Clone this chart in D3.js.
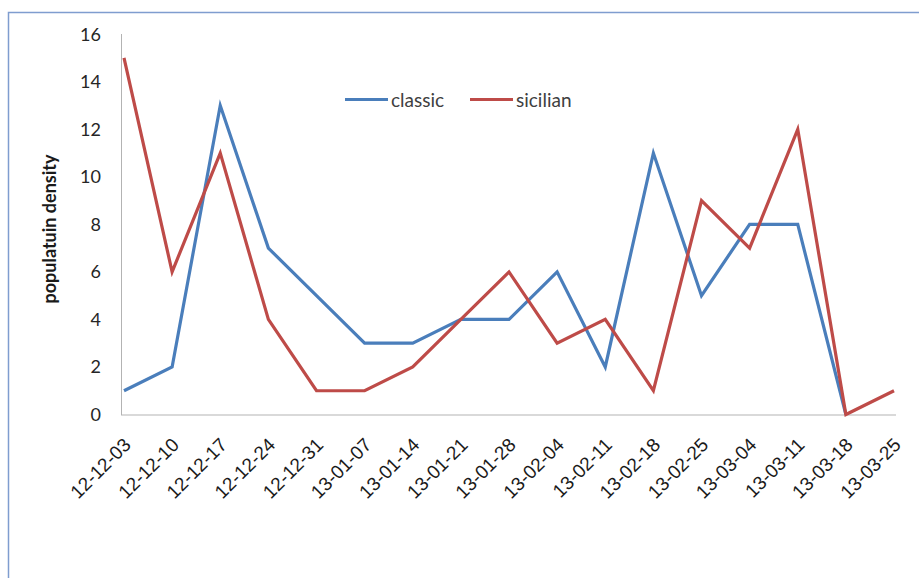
<!DOCTYPE html>
<html>
<head>
<meta charset="utf-8">
<script src="https://cdn.jsdelivr.net/npm/d3@7"></script>
<style>
  body { margin: 0; background: #fff; }
  svg { display: block; font-family: Lato, "Open Sans", sans-serif; }
</style>
</head>
<body>
<svg id="chart" width="919" height="578"></svg>
<script>
const dates = ['12-12-03','12-12-10','12-12-17','12-12-24','12-12-31','13-01-07','13-01-14','13-01-21','13-01-28',
  '13-02-04','13-02-11','13-02-18','13-02-25','13-03-04','13-03-11','13-03-18','13-03-25'];
const classic = [1, 2, 13, 7, 5, 3, 3, 4, 4, 6, 2, 11, 5, 8, 8, 0, null];
const sicilian = [15, 6, 11, 4, 1, 1, 2, 4, 6, 3, 4, 1, 9, 7, 12, 0, 1];
const yTicks = [0, 2, 4, 6, 8, 10, 12, 14, 16];

const blue = '#4a7ebb';
const red = '#be4b48';
const axisColor = '#b3b3b3';

const svg = d3.select('#chart');

// outer frame
svg.append('rect')
    .attr('x', 8.5).attr('y', 12.5)
    .attr('width', 930).attr('height', 600)
    .attr('fill', 'none')
    .attr('stroke', '#7f9dcf')
    .attr('stroke-width', 1.5);

const x = d3.scalePoint().domain(dates).range([124, 894]);
const y = d3.scaleLinear().domain([0, 16]).range([414.5, 34.2]);

// axes lines
svg.append('line')
    .attr('x1', 121.5).attr('x2', 121.5)
    .attr('y1', 34).attr('y2', 415)
    .attr('stroke', axisColor);
svg.append('line')
    .attr('x1', 121).attr('x2', 896)
    .attr('y1', 415).attr('y2', 415)
    .attr('stroke', axisColor);

// y tick labels
svg.selectAll('.ytick')
    .data(yTicks)
    .join('text')
    .attr('class', 'ytick')
    .attr('x', 101)
    .attr('y', d => y(d))
    .attr('dy', '0.36em')
    .attr('text-anchor', 'end')
    .attr('font-size', 18)
    .attr('fill', '#262626')
    .text(d => d);

// x tick labels
svg.selectAll('.xtick')
    .data(dates)
    .join('text')
    .attr('class', 'xtick')
    .attr('transform', d => `translate(${x(d) + 8},${446}) rotate(-45)`)
    .attr('text-anchor', 'end')
    .attr('font-family', '"Liberation Sans", Arial, sans-serif')
    .attr('font-size', 19)
    .attr('fill', '#1a1a1a')
    .text(d => d);

// y axis title
svg.append('text')
    .attr('transform', 'translate(50,229) rotate(-90)')
    .attr('text-anchor', 'middle')
    .attr('dy', '0.35em')
    .attr('font-size', 18)
    .attr('font-weight', 'bold')
    .attr('fill', '#1a1a1a')
    .text('populatuin density');

const line = d3.line()
    .defined(d => d != null)
    .x((d, i) => x(dates[i]))
    .y(d => y(d));

svg.append('path')
    .attr('d', line(classic))
    .attr('fill', 'none')
    .attr('stroke', blue)
    .attr('stroke-width', 3.2);

svg.append('path')
    .attr('d', line(sicilian))
    .attr('fill', 'none')
    .attr('stroke', red)
    .attr('stroke-width', 3.2);

// legend
const legend = [
    { name: 'classic', color: blue, x: 345 },
    { name: 'sicilian', color: red, x: 470 }
];
legend.forEach(l => {
    svg.append('line')
        .attr('x1', l.x).attr('x2', l.x + 43)
        .attr('y1', 99.5).attr('y2', 99.5)
        .attr('stroke', l.color)
        .attr('stroke-width', 3.2);
    svg.append('text')
        .attr('x', l.x + 46)
        .attr('y', 100)
        .attr('dy', '0.35em')
        .attr('font-size', 19)
        .attr('fill', '#404040')
        .text(l.name);
});
</script>
</body>
</html>
